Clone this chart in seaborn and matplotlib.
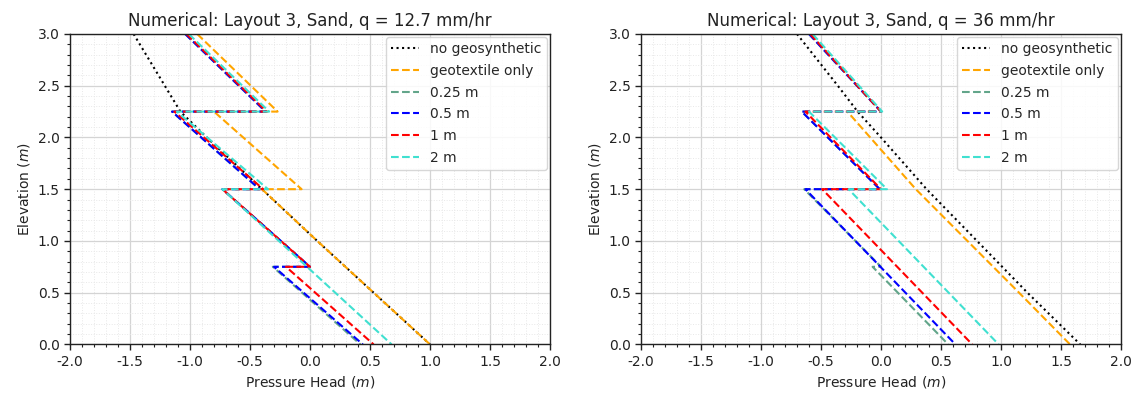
import numpy as np
import pandas as pd
import seaborn as sns
import matplotlib
matplotlib.use("Agg")
import matplotlib.pyplot as plt
from matplotlib.ticker import MultipleLocator, FormatStrFormatter

# ---------------- data ----------------
labels = ["no geosynthetic", "geotextile only", "0.25 m", "0.5 m", "1 m", "2 m"]
titles = ["Numerical: Layout 3, Sand, q = 12.7 mm/hr",
          "Numerical: Layout 3, Sand, q = 36 mm/hr"]

# q = 12.7 mm/hr
elev_none_L = [3.0, 2.75, 2.5, 2.25, 2.0, 1.75, 1.5, 1.0, 0.5, 0.0]
ph_none_L = [-1.47, -1.34, -1.21, -1.08, -0.86, -0.63, -0.40, 0.06, 0.53, 1.0]
elev_geo_L = [3.0, 2.25, 2.25, 1.5, 1.5, 1.0, 0.5, 0.0]
ph_geo_L = [-0.94, -0.27, -0.80, -0.07, -0.40, 0.06, 0.53, 1.0]
elev_jog_L = [3.0, 2.25, 2.25, 1.5, 1.5, 0.75, 0.75, 0.0]
ph_025_L = [-1.04, -0.37, -1.15, -0.42, -0.73, 0.0, -0.31, 0.42]
ph_05_L = [-1.04, -0.37, -1.15, -0.42, -0.73, 0.0, -0.30, 0.44]
ph_1_L = [-1.03, -0.36, -1.13, -0.39, -0.73, 0.0, -0.20, 0.53]
elev_2_L = [3.0, 2.25, 2.25, 1.5, 1.5, 0.0]
ph_2_L = [-1.01, -0.34, -1.11, -0.35, -0.73, 0.68]

# q = 36 mm/hr
elev_none_R = [3.0, 2.5, 2.25, 2.0, 1.5, 1.0, 0.5, 0.0]
ph_none_R = [-0.70, -0.36, -0.195, 0.0, 0.38, 0.80, 1.22, 1.66]
elev_geo_R = [3.0, 2.25, 2.25, 2.0, 1.5, 1.0, 0.5, 0.0]
ph_geo_R = [-0.59, 0.0, -0.28, -0.09, 0.29, 0.72, 1.15, 1.575]
elev_025_R = [3.0, 2.25, 2.25, 1.5, 1.5, 0.75, 0.75, 0.0]
ph_025_R = [-0.60, 0.0, -0.66, -0.01, -0.64, 0.0, -0.07, 0.56]
elev_seg_R = [3.0, 2.25, 2.25, 1.5, 1.5, 0.0]
ph_05_R = [-0.60, 0.0, -0.66, -0.01, -0.63, 0.62]
ph_1_R = [-0.59, 0.0, -0.63, 0.0, -0.49, 0.76]
ph_2_R = [-0.57, 0.01, -0.60, 0.05, -0.27, 0.98]

x_ticks = [-2.0, -1.5, -1.0, -0.5, 0.0, 0.5, 1.0, 1.5, 2.0]
y_ticks = [0.0, 0.5, 1.0, 1.5, 2.0, 2.5, 3.0]

colors = ["black", "orange", "#62a58a", "blue", "red", "turquoise"]
styles = [":", "--", "--", "--", "--", "--"]

panels = [
    [(ph_none_L, elev_none_L), (ph_geo_L, elev_geo_L), (ph_025_L, elev_jog_L),
     (ph_05_L, elev_jog_L), (ph_1_L, elev_jog_L), (ph_2_L, elev_2_L)],
    [(ph_none_R, elev_none_R), (ph_geo_R, elev_geo_R), (ph_025_R, elev_025_R),
     (ph_05_R, elev_seg_R), (ph_1_R, elev_seg_R), (ph_2_R, elev_seg_R)],
]

# ---------------- plot ----------------
sns.set_style("ticks")
plt.rcParams["font.family"] = ["DejaVu Sans"]
plt.rcParams["axes.unicode_minus"] = False

fig, axes = plt.subplots(1, 2, figsize=(11.34, 3.93), dpi=100)
fig.subplots_adjust(left=70 / 1134, right=1121 / 1134, bottom=0.1237,
                    top=0.9135, wspace=91 / 480)

for ax, title, series in zip(axes, titles, panels):
    for (ph, el), lab, col, ls in zip(series, labels, colors, styles):
        df = pd.DataFrame({"ph": ph, "el": el})
        sns.lineplot(data=df, x="ph", y="el", sort=False, estimator=None,
                     color=col, linestyle=ls, linewidth=1.5, label=lab, ax=ax)
    ax.set_xlim(-2.0, 2.0)
    ax.set_ylim(0.0, 3.0)
    ax.set_xticks(x_ticks)
    ax.set_yticks(y_ticks)
    ax.xaxis.set_major_formatter(FormatStrFormatter("%.1f"))
    ax.yaxis.set_major_formatter(FormatStrFormatter("%.1f"))
    ax.xaxis.set_minor_locator(MultipleLocator(0.1))
    ax.yaxis.set_minor_locator(MultipleLocator(0.1))
    ax.grid(which="major", color="#d4d4d4", linewidth=0.9)
    ax.grid(which="minor", color="#e8e8e8", linewidth=0.7, linestyle=":")
    ax.set_axisbelow(True)
    for sp in ax.spines.values():
        sp.set_visible(True)
        sp.set_color("#222222")
        sp.set_linewidth(1.0)
    ax.tick_params(which="major", direction="out", length=4, width=1,
                   labelsize=10, colors="#222222")
    ax.tick_params(which="minor", direction="out", length=2, width=0.8,
                   colors="#222222")
    ax.set_title(title, fontsize=12, color="#222222")
    ax.set_xlabel("Pressure Head ($m$)", fontsize=10, color="#222222")
    ax.set_ylabel("Elevation ($m$)", fontsize=10, color="#222222")
    ax.legend(loc="upper right", fontsize=10, frameon=True, framealpha=0.85,
              edgecolor="#d0d0d0", fancybox=True, borderaxespad=0.2,
              labelspacing=0.55)

fig.savefig("out.png", dpi=100)
